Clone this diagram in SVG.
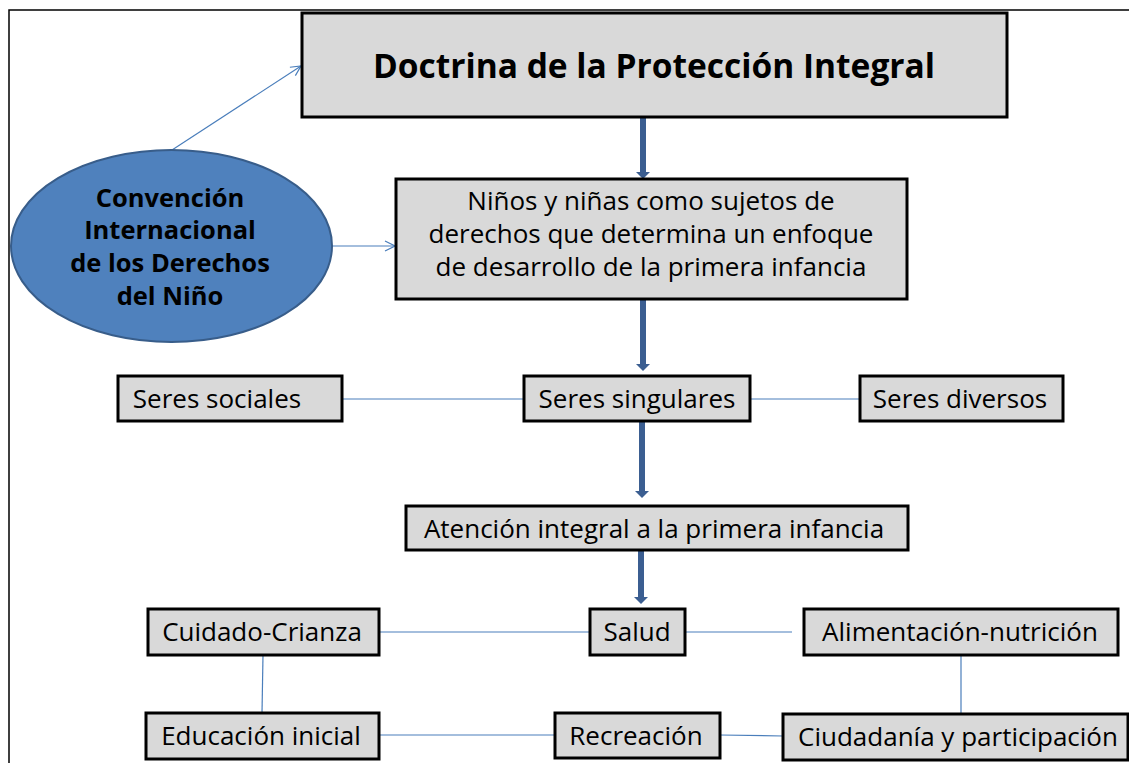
<svg xmlns="http://www.w3.org/2000/svg" width="1129" height="763" viewBox="0 0 1129 763">
<defs>
<style>
.box{fill:#d9d9d9;stroke:#000;stroke-width:3}
.t{font-family:"Open Sans","Liberation Sans",sans-serif;font-size:26px;fill:#000;text-anchor:middle}
.b{font-weight:bold}
.thin{stroke:#4a7ebb;stroke-width:1.2;fill:none}
.thick{stroke:#3b5e91;stroke-width:6;fill:none}
</style>
<marker id="open" viewBox="0 0 12 12" refX="11" refY="6" markerWidth="12" markerHeight="12" markerUnits="userSpaceOnUse" orient="auto">
<path d="M1,1 L11,6 L1,11" fill="none" stroke="#4a7ebb" stroke-width="1.2"/>
</marker>
</defs>
<rect width="1129" height="763" fill="#fff"/>
<path d="M9,763 V10 H1129" fill="none" stroke="#000" stroke-width="1.5"/>
<g id="connectors">
<line class="thin" x1="172" y1="150" x2="301" y2="66" marker-end="url(#open)"/>
<line class="thin" x1="332" y1="246" x2="395" y2="246" marker-end="url(#open)"/>
<line class="thick" x1="643" y1="117" x2="643" y2="172"/>
<path d="M636,172 L650,172 L643,179 Z" fill="#3b5e91"/>
<line class="thick" x1="643" y1="300" x2="643" y2="364"/>
<path d="M636,364 L650,364 L643,371 Z" fill="#3b5e91"/>
<line class="thick" x1="642" y1="421" x2="642" y2="491"/>
<path d="M635,491 L649,491 L642,498 Z" fill="#3b5e91"/>
<line class="thick" x1="641" y1="550" x2="641" y2="597"/>
<path d="M634,597 L648,597 L641,604 Z" fill="#3b5e91"/>
<line class="thin" x1="342" y1="399" x2="524" y2="399"/>
<line class="thin" x1="750" y1="399" x2="860" y2="399"/>
<line class="thin" x1="379" y1="632" x2="590" y2="632"/>
<line class="thin" x1="685" y1="632" x2="792" y2="632"/>
<line class="thin" x1="263" y1="655" x2="262" y2="713"/>
<line class="thin" x1="961" y1="655" x2="961" y2="713"/>
<line class="thin" x1="379" y1="735" x2="555" y2="735"/>
<line class="thin" x1="720" y1="735" x2="783" y2="736"/>
</g>
<g id="doctrina">
<rect class="box" x="302" y="13" width="705" height="104"/>
<text class="t b" x="654" y="78" style="font-size:33.5px">Doctrina de la Protección Integral</text>
</g>
<g id="convencion">
<ellipse cx="171.5" cy="246" rx="160.5" ry="96" fill="#4f81bd" stroke="#385d8a" stroke-width="2"/>
<text class="t b" x="170" y="207" style="font-size:25.5px">Convención</text>
<text class="t b" x="170" y="239" style="font-size:25.5px">Internacional</text>
<text class="t b" x="170" y="272" style="font-size:25.5px">de los Derechos</text>
<text class="t b" x="170" y="305" style="font-size:25.5px">del Niño</text>
</g>
<g id="ninos">
<rect class="box" x="396" y="179" width="511" height="120"/>
<text class="t" x="651" y="210">Niños y niñas como sujetos de</text>
<text class="t" x="651" y="243">derechos que determina un enfoque</text>
<text class="t" x="651" y="276">de desarrollo de la primera infancia</text>
</g>
<g id="sociales">
<rect class="box" x="118" y="376" width="224" height="45"/>
<text class="t" x="217" y="408">Seres sociales</text>
</g>
<g id="singulares">
<rect class="box" x="524" y="376" width="226" height="45"/>
<text class="t" x="637" y="408">Seres singulares</text>
</g>
<g id="diversos">
<rect class="box" x="860" y="376" width="203" height="45"/>
<text class="t" x="960" y="408">Seres diversos</text>
</g>
<g id="atencion">
<rect class="box" x="406" y="506" width="502" height="44"/>
<text class="t" x="654" y="538">Atención integral a la primera infancia</text>
</g>
<g id="cuidado">
<rect class="box" x="148" y="609" width="231" height="46"/>
<text class="t" x="262" y="641">Cuidado-Crianza</text>
</g>
<g id="salud">
<rect class="box" x="590" y="609" width="95" height="46"/>
<text class="t" x="637" y="641">Salud</text>
</g>
<g id="alimentacion">
<rect class="box" x="804" y="609" width="314" height="46"/>
<text class="t" x="960" y="641">Alimentación-nutrición</text>
</g>
<g id="educacion">
<rect class="box" x="146" y="713" width="233" height="46"/>
<text class="t" x="261" y="745">Educación inicial</text>
</g>
<g id="recreacion">
<rect class="box" x="555" y="713" width="165" height="45"/>
<text class="t" x="636" y="745">Recreación</text>
</g>
<g id="ciudadania">
<rect class="box" x="783" y="714" width="345" height="46"/>
<text class="t" x="958" y="746">Ciudadanía y participación</text>
</g>
</svg>
